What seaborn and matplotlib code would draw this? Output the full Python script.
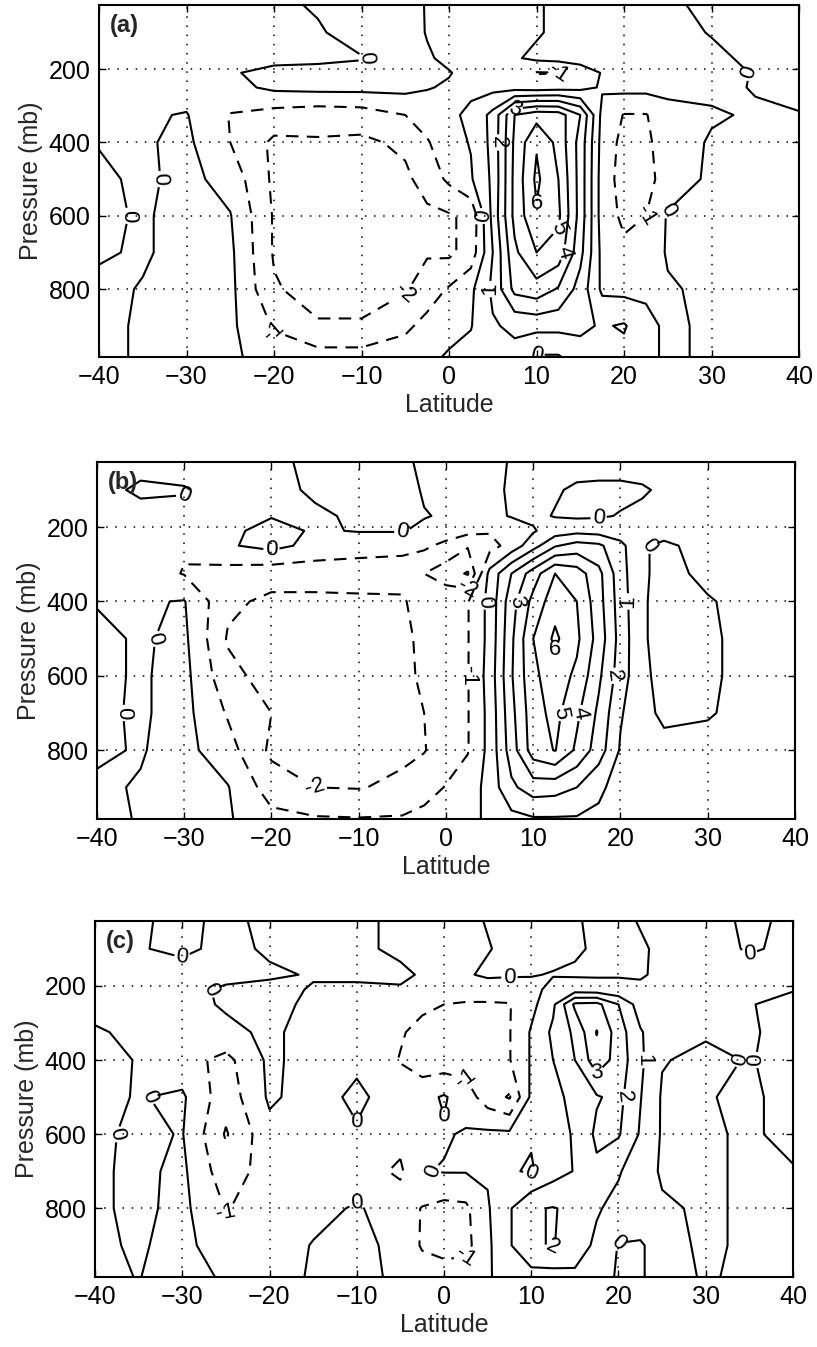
import numpy as np
import matplotlib
matplotlib.use("Agg")
import matplotlib.pyplot as plt
import seaborn as sns

# ---------------- data ----------------
lat = [-40, -35, -30, -25, -20, -15, -10, -5, -2.5, 0, 2.5, 5, 7.5, 10, 12.5, 15,
       17.5, 20, 22.5, 25, 30, 35, 40]
pressure = [25, 100, 170, 210, 250, 325, 400, 500, 600, 700, 800, 900, 985]
levels = [-3, -2, -1, 0, 1, 2, 3, 4, 5, 6]
xticks = [-40, -30, -20, -10, 0, 10, 20, 30, 40]
yticks = [200, 400, 600, 800]
panel_tags = ["(a)", "(b)", "(c)"]

psi_a = [
    [-0.4, -0.4, -0.4, -0.3, -0.2, 0.1, 0.4, 0.3, -0.05, -0.3, -0.4, -0.4, -0.3, -0.1, 0.2, 0.4, 0.4, 0.4, 0.3, 0.15, -0.2, -0.3, -0.3],
    [-0.4, -0.4, -0.4, -0.4, -0.3, -0.1, 0.4, 0.4, -0.05, -0.3, -0.4, -0.4, -0.3, -0.1, 0.2, 0.4, 0.4, 0.4, 0.4, 0.3, -0.05, -0.3, -0.3],
    [-0.4, -0.4, -0.4, -0.4, -0.3, -0.2, -0.05, 0.4, 0.1, -0.2, -0.3, -0.3, -0.1, 0.2, 0.3, 0.4, 0.4, 0.4, 0.4, 0.4, 0.2, -0.2, -0.3],
    [-0.4, -0.4, -0.4, -0.1, 0.3, 0.3, 0.3, 0.3, 0.2, 0.05, -0.3, -0.5, -0.7, -1.05, -1.02, -0.5, 0.05, 0.3, 0.3, 0.3, 0.3, -0.05, -0.3],
    [-0.4, -0.4, -0.4, -0.3, 0.2, 0.3, 0.3, 0.3, 0.05, -0.1, -0.2, -0.3, -0.4, -0.5, -0.4, -0.3, 0.1, 0.3, 0.3, 0.3, 0.2, -0.05, -0.3],
    [-0.4, -0.1, 0.05, -1.05, -1.4, -1.6, -1.5, -1.0, -0.5, -0.2, 0.2, 1.3, 4.0, 4.6, 4.5, 3.0, -0.3, -1.05, -1.05, -0.4, -0.1, 0.1, 0.05],
    [-0.05, -0.1, 0.2, -1.0, -2.2, -2.1, -2.2, -1.8, -1.1, -0.3, 0.05, 1.3, 4.2, 5.9, 4.7, 2.6, -0.4, -1.3, -1.2, -0.5, 0.1, 0.3, 0.3],
    [0.2, -0.2, 0.3, -0.4, -2.2, -2.4, -2.4, -2.2, -1.6, -0.8, -0.1, 1.2, 4.3, 6.2, 5.0, 2.6, -0.5, -1.4, -1.3, -0.6, 0.2, 0.3, 0.3],
    [0.2, -0.1, 0.3, 0.05, -2.1, -2.5, -2.4, -2.3, -2.2, -2.1, -1.8, 1.3, 4.3, 5.9, 5.2, 2.6, -0.5, -1.2, -1.0, 0.1, 0.15, 0.3, 0.3],
    [0.1, -0.1, 0.3, 0.2, -2.1, -2.4, -2.4, -2.1, -2.1, -2.2, -1.6, 1.0, 3.8, 5.0, 4.6, 2.3, -0.3, -0.8, -0.6, 0.1, 0.2, 0.3, 0.3],
    [-0.2, 0.05, 0.3, 0.25, -1.9, -2.4, -2.4, -2.1, -1.5, -0.9, -0.2, 1.2, 3.3, 3.6, 2.9, 1.6, -0.2, -0.3, -0.2, -0.1, 0.2, 0.1, 0.2],
    [-0.2, 0.1, 0.3, 0.2, -1.1, -1.9, -1.9, -1.2, -0.7, -0.3, -0.05, 0.9, 1.2, 1.3, 1.3, 1.2, 0.9, 1.1, 0.3, -0.2, 0.2, 0.2, 0.2],
    [-0.2, 0.1, 0.3, 0.2, -0.5, -0.6, -0.6, -0.5, -0.2, 0.1, 0.3, 0.6, 0.7, -0.1, -0.1, 0.6, 0.6, 0.7, 0.3, -0.2, 0.2, 0.2, 0.2],
]

psi_b = [
    [-0.3, -0.3, -0.3, -0.3, -0.2, 0.2, 0.4, 0.2, -0.2, -0.3, -0.3, -0.2, 0.05, 0.3, 0.4, 0.4, 0.4, 0.4, 0.4, 0.4, 0.4, 0.4, 0.4],
    [-0.3, 0.15, 0.05, -0.3, -0.2, 0.1, 0.5, 0.4, -0.1, -0.3, -0.3, -0.2, 0.1, 0.3, 0.1, -0.15, -0.2, -0.2, -0.1, 0.15, 0.3, 0.3, 0.3],
    [-0.3, -0.3, -0.2, -0.2, -0.05, -0.1, 0.1, 0.4, 0.05, -0.1, -0.3, -0.4, 0.1, 0.2, -0.05, -0.15, -0.1, 0.05, 0.2, 0.3, 0.3, 0.3, 0.3],
    [-0.3, -0.3, -0.4, -0.2, 0.3, -0.1, 0.05, 0.05, -0.2, -0.4, -0.7, -0.9, -0.95, -0.1, 0.5, 0.7, 0.6, 0.4, 0.2, 0.2, 0.3, 0.3, 0.3],
    [-0.3, -0.3, -0.9, -0.1, 0.3, -0.3, -0.6, -0.6, -0.8, -1.3, -1.9, -1.4, -0.6, 0.6, 1.9, 2.4, 2.2, 1.3, 0.05, -0.1, 0.2, 0.3, 0.3],
    [-0.3, -0.5, -1.05, -1.4, -1.6, -1.6, -1.5, -1.7, -2.0, -2.5, -3.1, 0.3, 2.0, 3.5, 5.0, 4.5, 3.3, 1.4, 0.1, -0.2, 0.15, 0.3, 0.3],
    [-0.05, -0.1, 0.05, -1.8, -2.2, -2.2, -2.2, -2.1, -1.6, -1.3, -1.05, 0.3, 2.6, 4.3, 5.6, 5.0, 3.4, 1.5, 0.1, -0.3, -0.05, 0.2, 0.3],
    [0.2, -0.1, 0.2, -2.1, -2.4, -2.5, -2.4, -2.3, -1.7, -1.3, -1.05, 0.3, 2.8, 5.0, 6.2, 5.2, 3.6, 1.6, 0.1, -0.3, -0.1, 0.2, 0.3],
    [0.2, -0.1, 0.3, -1.7, -2.4, -2.5, -2.4, -2.3, -1.8, -1.3, -1.05, 0.4, 2.9, 4.8, 5.5, 4.8, 3.2, 1.5, 0.2, -0.3, -0.1, 0.2, 0.3],
    [0.15, -0.1, 0.3, -1.1, -2.0, -2.4, -2.4, -2.3, -2.0, -1.4, -1.05, 0.3, 2.7, 4.6, 5.3, 4.2, 2.8, 1.1, 0.3, -0.2, -0.05, 0.2, 0.3],
    [0.1, -0.05, 0.3, -0.6, -2.2, -2.4, -2.4, -2.2, -2.05, -1.5, -1.05, 0.3, 2.5, 4.5, 5.05, 3.8, 2.5, 0.9, 0.4, 0.3, 0.2, 0.2, 0.3],
    [-0.1, 0.05, 0.3, 0.05, -1.5, -2.0, -2.05, -1.8, -1.4, -0.95, -0.6, 0.4, 1.8, 2.5, 2.4, 2.0, 1.2, 0.6, 0.3, 0.2, 0.2, 0.2, 0.2],
    [-0.2, 0.05, 0.3, 0.1, -0.7, -0.9, -0.95, -0.9, -0.7, -0.5, -0.3, 0.2, 0.7, 0.9, 0.9, 0.9, 0.8, 0.5, 0.3, 0.2, 0.2, 0.2, 0.2],
]

psi_c = [
    [-0.2, -0.1, 0.2, -0.2, 0.2, 0.3, 0.2, -0.2, -0.3, -0.3, -0.2, 0.05, 0.2, 0.3, 0.2, 0.05, -0.1, -0.2, 0.05, 0.2, 0.2, -0.1, 0.1],
    [-0.2, -0.05, 0.15, -0.2, 0.1, 0.3, 0.2, -0.2, -0.3, -0.3, -0.2, -0.05, 0.2, 0.3, 0.3, 0.1, -0.1, -0.2, -0.1, 0.15, 0.2, -0.05, 0.1],
    [-0.3, -0.3, -0.3, -0.2, -0.1, 0.05, 0.3, 0.2, -0.1, -0.2, -0.1, 0.15, 0.1, 0.05, -0.05, -0.1, -0.1, -0.05, -0.05, 0.1, 0.2, 0.2, 0.1],
    [-0.3, -0.3, -0.2, 0.1, 0.2, -0.05, -0.3, -0.1, -0.3, -0.4, -0.5, -0.5, -0.5, -0.3, 0.3, 0.5, 0.4, 0.2, 0.1, 0.2, 0.2, 0.2, 0.05],
    [-0.3, -0.3, -0.3, 0.1, 0.3, -0.2, -0.4, -0.6, -0.8, -1.0, -1.1, -1.1, -1.05, -0.3, 0.8, 3.2, 3.3, 2.0, 0.5, 0.2, 0.2, 0.05, -0.3],
    [0.1, -0.2, -0.5, -0.2, 0.15, -0.3, -0.4, -0.9, -1.3, -1.4, -1.4, -1.3, -1.05, 0.1, 1.2, 2.2, 4.05, 2.5, 1.1, 0.3, 0.1, 0.1, -0.3],
    [0.3, -0.05, -0.6, -1.3, 0.2, -0.4, -0.2, -1.05, -1.6, -1.6, -1.5, -1.4, -1.05, 0.1, 1.0, 2.0, 3.6, 2.6, 1.2, 0.05, -0.2, 0.05, -0.3],
    [0.2, -0.05, 0.15, -1.6, 0.15, -0.4, 0.2, -0.5, -0.3, 0.1, -0.5, -1.5, -2.1, 0.2, 0.7, 1.3, 1.9, 2.3, 1.05, -0.1, -0.05, 0.15, -0.3],
    [0.2, -0.2, 0.05, -2.1, -0.3, -0.4, -0.1, -0.7, -0.3, -0.1, 0.1, 0.2, 0.2, 0.1, 0.6, 1.1, 2.2, 2.1, 0.9, -0.1, -0.1, 0.1, -0.2],
    [0.15, -0.2, 0.2, -1.6, -0.5, -0.3, -0.6, -1.15, -0.05, 0.05, 0.05, 0.1, 0.1, -0.1, 0.6, 1.05, 1.8, 1.1, 0.4, -0.1, -0.1, 0.1, 0.05],
    [0.15, -0.2, 0.25, -1.05, -0.6, -0.3, 0.1, -0.5, -1.05, -1.3, -1.2, -0.1, 0.9, 1.9, 2.05, 1.8, 1.1, 0.7, 0.3, 0.1, -0.1, 0.1, 0.2],
    [0.15, -0.1, 0.3, -0.6, -0.5, 0.05, 0.3, -0.3, -1.1, -1.3, -1.3, -0.2, 0.9, 1.9, 2.05, 1.5, 0.8, -0.05, -0.05, 0.2, -0.1, 0.1, 0.2],
    [0.15, -0.02, 0.3, -0.1, -0.4, 0.1, 0.3, -0.2, -0.5, -0.6, -0.5, -0.1, 0.4, 0.6, 0.6, 0.8, 0.4, -0.1, -0.05, 0.2, -0.05, 0.1, 0.2],
]

# ---------------- style ----------------
sns.set_theme(style="ticks")
plt.rcParams["font.family"] = ["Liberation Sans", "DejaVu Sans"]
plt.rcParams["axes.unicode_minus"] = True

fig = plt.figure(figsize=(8.17, 13.47), dpi=100)
rects = [
    [0.1212, 0.7350, 0.8568, 0.2613],
    [0.1187, 0.3920, 0.8543, 0.2650],
    [0.1163, 0.0520, 0.8543, 0.2643],
]

styles = [(0, (6, 4)) if l < 0 else "solid" for l in levels]

for rect, field, tag in zip(rects, [psi_a, psi_b, psi_c], panel_tags):
    ax = fig.add_axes(rect)
    X, Y = np.meshgrid(np.array(lat), np.array(pressure))
    Z = np.array(field)
    cs = ax.contour(X, Y, Z, levels=levels, colors="black",
                    linewidths=1.5, linestyles=styles)
    ax.clabel(cs, inline=True, fontsize=16, inline_spacing=2,
              fmt=lambda v: f"{v:.0f}")
    ax.set_xlim(-40, 40)
    ax.set_ylim(985, 25)
    ax.set_xticks(xticks)
    ax.set_yticks(yticks)
    ax.grid(True, color="black", linestyle=(0, (1, 5)), linewidth=1.1)
    ax.tick_params(direction="in", length=5, width=1, top=True, right=True,
                   labelsize=18, colors="black", pad=6)
    for s in ax.spines.values():
        s.set_visible(True)
        s.set_linewidth(1.5)
        s.set_color("black")
    ax.set_xlabel("Latitude", fontsize=18, labelpad=3)
    ax.set_ylabel("Pressure (mb)", fontsize=18, labelpad=4)
    ax.text(0.015, 0.975, tag, transform=ax.transAxes, ha="left", va="top",
            fontsize=17, fontweight="bold")

fig.savefig("out.png", dpi=100, facecolor="white")
